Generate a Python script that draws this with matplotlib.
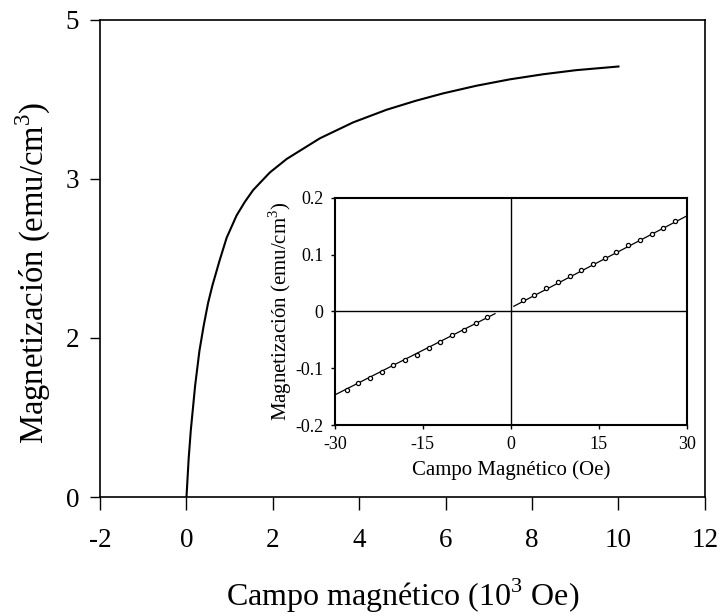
import matplotlib
matplotlib.use("Agg")
import matplotlib.pyplot as plt
import numpy as np

# Main curve (x in 10^3 Oe, y in axis units: ticks labelled "0","2","3","5")
main_x = [0.0, 0.05, 0.1, 0.2, 0.3, 0.4, 0.5, 0.6, 0.77, 0.93, 1.16, 1.35, 1.545, 1.93, 2.32,
          3.09, 3.86, 4.63, 5.3, 5.94, 6.71, 7.48, 8.25, 9.02, 10.0]
main_y = [0.0, 0.24, 0.42, 0.70, 0.92, 1.08, 1.22, 1.33, 1.49, 1.63, 1.77, 1.855, 1.93, 2.04, 2.125,
          2.255, 2.355, 2.434, 2.49, 2.537, 2.585, 2.625, 2.657, 2.683, 2.706]
main_xticks = [-2, 0, 2, 4, 6, 8, 10, 12]
main_yticks = [0, 1, 2, 3]
main_yticklabels = ["0", "2", "3", "5"]

# Inset data (Oe, emu/cm^3)
left_x = [-28, -26, -24, -22, -20, -18, -16, -14, -12, -10, -8, -6, -4]
left_y = [-0.138, -0.126, -0.117, -0.107, -0.095, -0.086, -0.076, -0.065, -0.054, -0.042, -0.032, -0.021, -0.010]
right_x = [2, 4, 6, 8, 10, 12, 14, 16, 18, 20, 22, 24, 26, 28]
right_y = [0.020, 0.029, 0.041, 0.052, 0.062, 0.073, 0.084, 0.094, 0.104, 0.116, 0.126, 0.136, 0.147, 0.159]
left_fit_x = [-29.8, -2.7]
left_fit_y = [-0.146, -0.004]
right_fit_x = [0.5, 29.8]
right_fit_y = [0.009, 0.167]
inset_xticks = [-30, -15, 0, 15, 30]
inset_yticks = [-0.2, -0.1, 0, 0.1, 0.2]
inset_yticklabels = ["-0.2", "-0.1", "0", "0.1", "0.2"]

plt.rcParams['font.family'] = ['Liberation Serif', 'DejaVu Serif']
plt.rcParams['mathtext.fontset'] = 'custom'
plt.rcParams['mathtext.rm'] = 'Liberation Serif'

fig = plt.figure(figsize=(7.2, 6.16), dpi=100)
ax = fig.add_axes([0.139, 0.193, 0.840, 0.775])
ax.plot(main_x, main_y, color='black', lw=1.5, solid_joinstyle='round')
ax.set_xlim(-2, 12)
ax.set_ylim(0, 3)
ax.set_xticks(main_xticks)
ax.set_xticklabels([str(t) for t in main_xticks])
ax.set_yticks(main_yticks)
ax.set_yticklabels(main_yticklabels)
ax.tick_params(axis='x', direction='out', length=9, width=1, labelsize=19.5, pad=13)
ax.tick_params(axis='y', direction='out', length=7, width=1, labelsize=19.5, pad=8)
for s in ax.spines.values():
    s.set_linewidth(1.2)
ax.set_xlabel("Campo magnético (10$^{3}$ Oe)", fontsize=23, labelpad=17)
ax.set_ylabel("Magnetización (emu/cm$^{3}$)", fontsize=23.5)
ax.yaxis.set_label_coords(-0.078, 0.47)

ins = fig.add_axes([0.465, 0.310, 0.489, 0.369])
ins.axhline(0, color='black', lw=1.0)
ins.axvline(0, color='black', lw=1.0)
ins.plot(left_fit_x, left_fit_y, color='black', lw=0.9)
ins.plot(right_fit_x, right_fit_y, color='black', lw=0.9)
ins.plot(left_x, left_y, 'o', ms=3, mfc='white', mec='black', mew=0.9)
ins.plot(right_x, right_y, 'o', ms=3, mfc='white', mec='black', mew=0.9)
ins.set_xlim(-30, 30)
ins.set_ylim(-0.2, 0.2)
ins.set_xticks(inset_xticks)
ins.set_xticklabels([str(t) for t in inset_xticks])
ins.set_yticks(inset_yticks)
ins.set_yticklabels(inset_yticklabels)
ins.tick_params(direction='out', length=3, width=1, labelsize=13, pad=5)
for s in ins.spines.values():
    s.set_linewidth(1.5)
ins.set_xlabel("Campo Magnético (Oe)", fontsize=15, labelpad=5)
ins.set_ylabel("Magnetización (emu/cm$^{3}$)", fontsize=15, labelpad=1)

fig.savefig("out.png", dpi=100)
